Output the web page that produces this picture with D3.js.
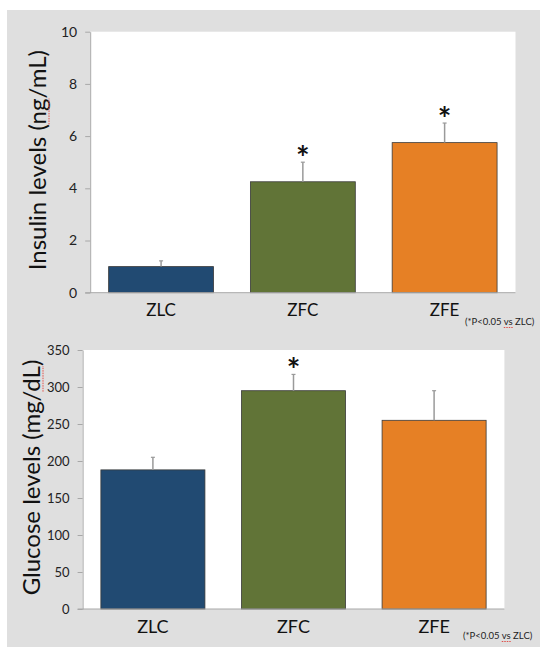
<!DOCTYPE html>
<html>
<head>
<meta charset="utf-8">
<script src="https://cdn.jsdelivr.net/npm/d3@7"></script>
<style>
  body { margin: 0; background: #fff; }
  svg { display: block; font-family: Lato, "Open Sans", sans-serif; }
</style>
</head>
<body>
<svg id="chart" width="540" height="647"></svg>
<script>
// groups and values
const groups = ['ZLC', 'ZFC', 'ZFE']
const barColors = ['#214a72', '#617437', '#e68025']

const insulinMean = [1.0, 4.25, 5.75]
const insulinErr = [0.22, 0.75, 0.75]
const insulinSig = [false, true, true]
const insulinTicks = [0, 2, 4, 6, 8, 10]

const glucoseMean = [188, 295, 255]
const glucoseErr = [17, 22, 40]
const glucoseSig = [false, true, false]
const glucoseTicks = [0, 50, 100, 150, 200, 250, 300, 350]

const footnote = '(*P<0.05 vs ZLC)'

const svg = d3.select('#chart')

// grey slide background
svg.append('rect')
  .attr('x', 7).attr('y', 10)
  .attr('width', 533).attr('height', 637)
  .attr('fill', '#dfdfdf')

// red spell-check underline under part of a text
function squiggle(g, textSel, from, count, offset) {
  const node = textSel.node()
  const total = node.getComputedTextLength()
  const anchor = textSel.attr('text-anchor')
  let x0 = +(textSel.attr('x') || 0)
  if (anchor === 'middle') x0 -= total / 2
  const start = x0 + node.getSubStringLength(0, from)
  const len = node.getSubStringLength(from, count)
  const yy = +(textSel.attr('y') || 0) + offset
  g.append('line')
    .attr('x1', start).attr('x2', start + len)
    .attr('y1', yy).attr('y2', yy)
    .attr('stroke', '#e0504a')
    .attr('stroke-width', 1)
    .attr('stroke-dasharray', '1.5,1')
}

function drawPanel(opts) {
  const { box, max, ticks, mean, err, sig, title, titleX, titleSize, tickSize,
          labelSize, labelGap, noteX, noteY, squig } = opts
  const g = svg.append('g')

  const x = d3.scaleBand()
    .domain(groups)
    .range([box.left, box.right])
    .paddingInner(0.26)
    .paddingOuter(0.13)

  const y = d3.scaleLinear()
    .domain([0, max])
    .range([box.bottom, box.top])

  // plot area
  g.append('rect')
    .attr('x', box.left).attr('y', box.top)
    .attr('width', box.right - box.left)
    .attr('height', box.bottom - box.top)
    .attr('fill', '#fff')

  // y axis
  const yAxis = g.append('g')
    .attr('transform', `translate(${box.left},0)`)
    .call(d3.axisLeft(y).tickValues(ticks).tickSize(5).tickPadding(8).tickSizeOuter(0))
  yAxis.select('.domain').attr('stroke', '#a8a8a8')
  yAxis.selectAll('.tick line').attr('stroke', '#a8a8a8')
  yAxis.selectAll('.tick text')
    .attr('fill', '#222')
    .style('font-family', 'Lato, sans-serif')
    .style('font-size', tickSize + 'px')

  // bars
  g.selectAll('rect.bar')
    .data(groups)
    .join('rect')
    .attr('class', 'bar')
    .attr('x', d => x(d))
    .attr('y', (d, i) => y(mean[i]))
    .attr('width', x.bandwidth())
    .attr('height', (d, i) => y(0) - y(mean[i]))
    .attr('fill', (d, i) => barColors[i])
    .attr('stroke', '#3a3a3a')
    .attr('stroke-width', 0.8)

  // x axis line
  g.append('line')
    .attr('x1', box.left - 5).attr('x2', box.right)
    .attr('y1', y(0)).attr('y2', y(0))
    .attr('stroke', '#a8a8a8')

  // error bars (upper only)
  const eb = g.selectAll('g.err')
    .data(groups)
    .join('g')
    .attr('class', 'err')
  eb.append('line')
    .attr('x1', d => x(d) + x.bandwidth() / 2)
    .attr('x2', d => x(d) + x.bandwidth() / 2)
    .attr('y1', (d, i) => y(mean[i]))
    .attr('y2', (d, i) => y(mean[i] + err[i]))
    .attr('stroke', '#9a9a9a')
    .attr('stroke-width', 1.5)
  eb.append('line')
    .attr('x1', d => x(d) + x.bandwidth() / 2 - 2)
    .attr('x2', d => x(d) + x.bandwidth() / 2 + 2)
    .attr('y1', (d, i) => y(mean[i] + err[i]))
    .attr('y2', (d, i) => y(mean[i] + err[i]))
    .attr('stroke', '#9a9a9a')
    .attr('stroke-width', 1.2)

  // significance stars
  g.selectAll('text.star')
    .data(groups.filter((d, i) => sig[i]))
    .join('text')
    .attr('class', 'star')
    .attr('x', d => x(d) + x.bandwidth() / 2)
    .attr('y', d => y(mean[groups.indexOf(d)] + err[groups.indexOf(d)]) + 8)
    .attr('text-anchor', 'middle')
    .attr('font-size', 32)
    .attr('font-weight', 'bold')
    .attr('fill', '#111')
    .text('*')

  // category labels
  g.selectAll('text.cat')
    .data(groups)
    .join('text')
    .attr('class', 'cat')
    .attr('x', d => x(d) + x.bandwidth() / 2)
    .attr('y', y(0) + labelGap)
    .attr('text-anchor', 'middle')
    .attr('font-size', labelSize)
    .attr('fill', '#111')
    .text(d => d)

  // y title
  const tg = g.append('g')
    .attr('transform', `translate(${titleX},${(box.top + box.bottom) / 2 - 2}) rotate(-90)`)
  const t = tg.append('text')
    .attr('x', 0).attr('y', 0)
    .attr('text-anchor', 'middle')
    .attr('font-size', titleSize)
    .attr('fill', '#111')
    .text(title)
  squiggle(tg, t, squig[0], squig[1], 3)

  // footnote
  const n = g.append('text')
    .attr('x', noteX).attr('y', noteY)
    .attr('font-size', 9.5)
    .attr('fill', '#222')
    .text(footnote)
  squiggle(g, n, 9, 2, 2.5)
}

drawPanel({
  box: { left: 90.2, right: 515.5, top: 31.7, bottom: 292.7 },
  max: 10, ticks: insulinTicks,
  mean: insulinMean, err: insulinErr, sig: insulinSig,
  title: 'Insulin levels (ng/mL)', titleX: 46, titleSize: 24,
  tickSize: 14, labelSize: 17, labelGap: 23,
  noteX: 465, noteY: 325, squig: [16, 2]
})

drawPanel({
  box: { left: 82.6, right: 504.4, top: 350, bottom: 609 },
  max: 350, ticks: glucoseTicks,
  mean: glucoseMean, err: glucoseErr, sig: glucoseSig,
  title: 'Glucose levels (mg/dL)', titleX: 40, titleSize: 24,
  tickSize: 13, labelSize: 18, labelGap: 23.5,
  noteX: 463, noteY: 639, squig: [19, 2]
})
</script>
</body>
</html>
